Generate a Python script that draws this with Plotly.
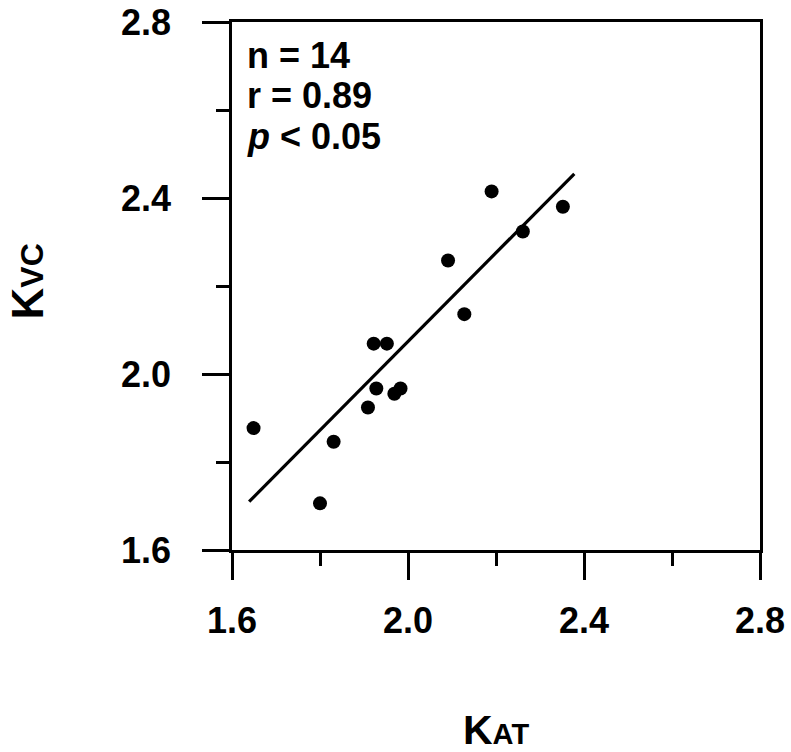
import plotly.graph_objects as go

# Paired measurements: K_AT (x) against K_VC (y)
k_at = [1.649, 1.800, 1.831, 1.909, 1.928, 1.922, 1.952, 1.969, 1.983, 2.091, 2.128, 2.190, 2.261, 2.352]
k_vc = [1.877, 1.706, 1.846, 1.924, 1.967, 2.069, 2.069, 1.955, 1.967, 2.258, 2.136, 2.415, 2.324, 2.380]

# Least-squares line end points
fit_x = [1.639, 2.378]
fit_y = [1.710, 2.455]

# Axis ticks
tick_vals = [1.6, 2.0, 2.4, 2.8]
tick_text = ["1.6", "2.0", "2.4", "2.8"]

stats_lines = ["<b>n = 14</b>", "<b>r = 0.89</b>", "<b><i>p</i> < 0.05</b>"]

FONT = "Liberation Sans, Arial, sans-serif"

fig = go.Figure()
fig.add_trace(go.Scatter(x=fit_x, y=fit_y, mode="lines",
                         line=dict(color="black", width=3.2), hoverinfo="skip"))
fig.add_trace(go.Scatter(x=k_at, y=k_vc, mode="markers",
                         marker=dict(color="black", size=14, line=dict(width=0))))

axis_common = dict(
    range=[1.6, 2.8], tickvals=tick_vals, ticktext=tick_text,
    showline=True, linecolor="black", linewidth=2.5, mirror=True,
    ticks="outside", ticklen=27, tickwidth=2.5, tickcolor="black",
    minor=dict(dtick=0.2, tick0=1.6, ticks="outside", ticklen=13, tickwidth=2.5, tickcolor="black"),
    showgrid=False, zeroline=False, automargin=False,
    tickfont=dict(family=FONT, size=36, color="black", weight="bold"),
)

fig.update_xaxes(**axis_common, ticklabelstandoff=10)
fig.update_yaxes(**axis_common, ticklabelstandoff=24)

# Statistics block in the upper-left corner
for text, ypos in zip(stats_lines, [0.937, 0.86, 0.784]):
    fig.add_annotation(xref="x domain", yref="y domain", x=0.025, y=ypos,
                       text=text, showarrow=False, xanchor="left", yanchor="middle",
                       font=dict(family=FONT, size=36, color="black"))

# Axis titles with small-caps subscripts
fig.add_annotation(xref="paper", yref="paper", x=0.5, y=-0.34,
                   text="<b>K<span style='font-size:29px'>AT</span></b>",
                   showarrow=False, xanchor="center", yanchor="middle",
                   font=dict(family=FONT, size=41, color="black"))
fig.add_annotation(xref="paper", yref="paper", x=-0.387, y=0.508,
                   text="<b>K<span style='font-size:32px'>VC</span></b>",
                   showarrow=False, xanchor="center", yanchor="middle", textangle=-90,
                   font=dict(family=FONT, size=44, color="black"))

fig.update_layout(
    width=791, height=752,
    margin=dict(l=232, r=31, t=22, b=202, autoexpand=False),
    paper_bgcolor="white", plot_bgcolor="white",
    showlegend=False,
)

fig.write_html("out.html")
